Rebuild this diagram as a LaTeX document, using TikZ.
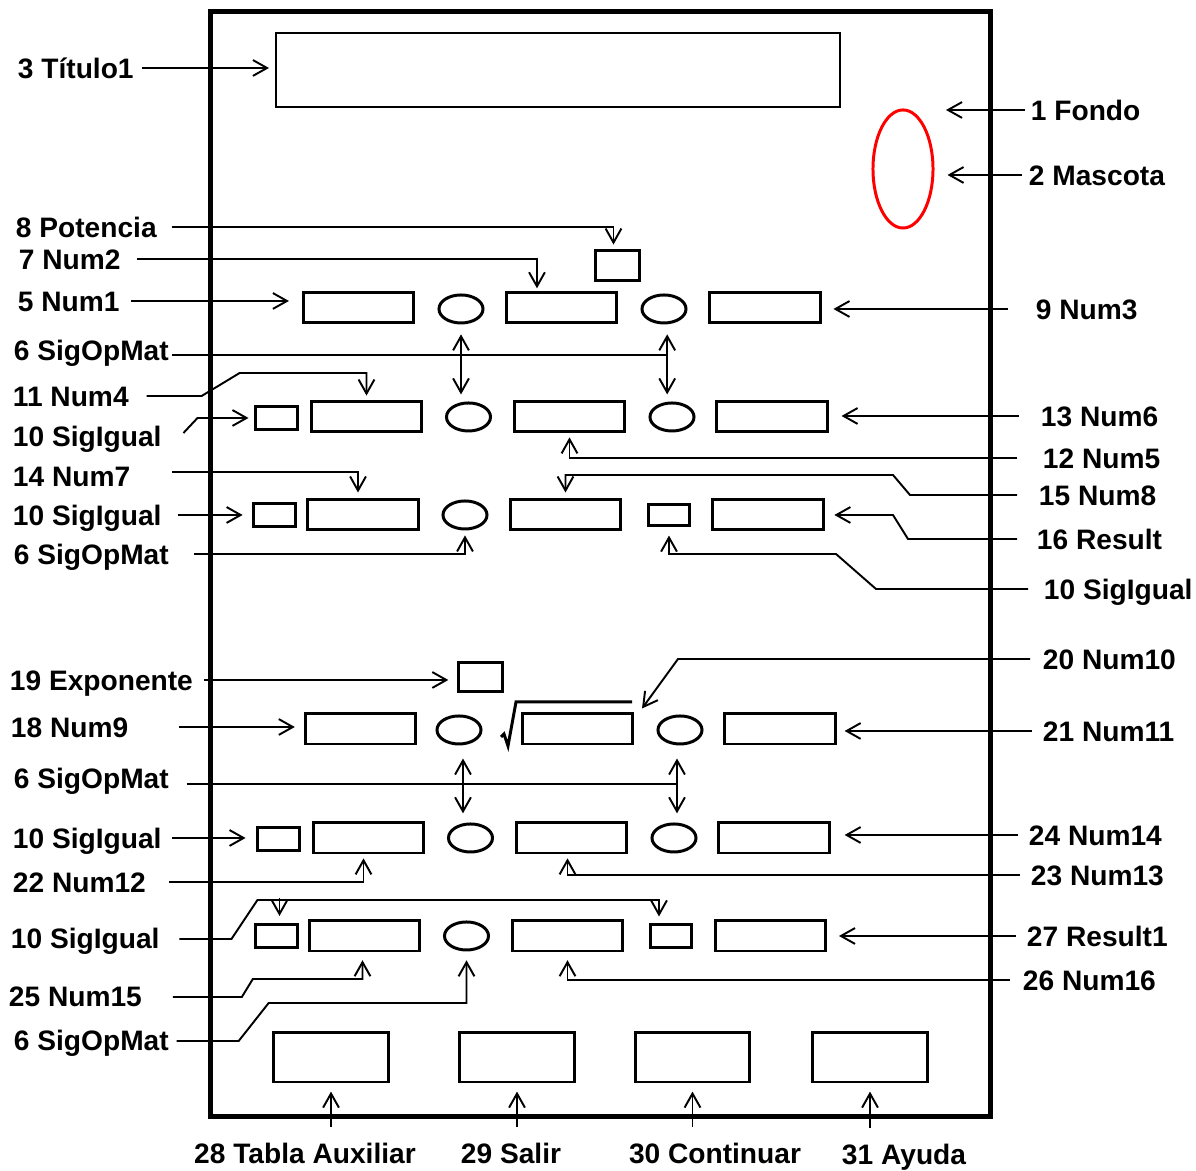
\documentclass[tikz,border=0pt]{standalone}
\usepackage{fontspec}
\setmainfont{Liberation Sans}
\usepackage{tikz}
\usetikzlibrary{calc, shapes.geometric, arrows.meta}

\begin{document}
\begin{tikzpicture}[x=0.01cm, y=-0.01cm, line width=0.55pt,
    >={Straight Barb[length=4pt, width=4.5pt]},
    campo/.style={draw, line width=0.85pt, inner sep=0, minimum width=1.1cm, minimum height=0.3cm},
    signo/.style={draw, ellipse, line width=0.85pt, inner sep=0, minimum width=0.44cm, minimum height=0.28cm},
    igual/.style={draw, line width=0.85pt, inner sep=0, minimum width=0.41cm, minimum height=0.23cm},
    boton/.style={draw, line width=0.85pt, inner sep=0, minimum width=1.14cm, minimum height=0.49cm},
    etq/.style={font=\fontsize{8}{10}\selectfont\bfseries, inner sep=0, text height=5.8pt, text depth=0pt, anchor=west}]
    \useasboundingbox (0,0) rectangle (1196,1171);

    % Marco, titulo y mascota
    \node[draw, line width=1.4pt, minimum width=7.79cm, minimum height=11.04cm] (fondo) at (600.5,564) {};
    \node[draw, line width=0.5pt, inner sep=0, minimum width=5.64cm, minimum height=0.74cm] (titulo) at (558,70) {};
    \node[draw=red, ellipse, line width=0.85pt, inner sep=0, minimum width=0.6cm, minimum height=1.18cm] (mascota) at (903,169) {};
    \coordinate (cfondo) at (946,110);

    % Primer bloque
    \node[campo, minimum width=0.43cm] (pot) at (617.5,266) {};
    \node[campo] (n1) at (358.5,308) {};
    \node[signo] (s1) at (461,309) {};
    \node[campo] (n2) at (561.5,308) {};
    \node[signo] (s2) at (664,309) {};
    \node[campo] (n3) at (765,308) {};
    \node[igual] (i1) at (276.5,418) {};
    \node[campo] (n4) at (366.5,417) {};
    \node[signo] (s3) at (468.5,417) {};
    \node[campo] (n5) at (569.5,417) {};
    \node[signo] (s4) at (672,417) {};
    \node[campo] (n6) at (772,417) {};
    \node[igual] (i2) at (274.5,515.5) {};
    \node[campo] (n7) at (363,515) {};
    \node[signo] (s5) at (465,515) {};
    \node[campo] (n8) at (565.5,515) {};
    \node[igual, minimum height=0.21cm] (i3) at (669,515.5) {};
    \node[campo] (res) at (768,515) {};

    % Segundo bloque
    \node[campo, minimum width=0.43cm, minimum height=0.29cm] (exp) at (480.5,677.5) {};
    \node[campo] (n9) at (360.5,729) {};
    \node[signo] (s6) at (459,730) {};
    \node[campo] (n10) at (577.5,729) {};
    \draw[line width=0.85pt] (501,737) -- (504,734) -- (508,746) -- (516,702) -- (632,702);
    \node[signo] (s7) at (680,730) {};
    \node[campo] (n11) at (780,729) {};
    \node[igual] (i4) at (278.5,839.5) {};
    \node[campo] (n12) at (368.5,838) {};
    \node[signo] (s8) at (470.5,838) {};
    \node[campo] (n13) at (571.5,838) {};
    \node[signo] (s9) at (674,838) {};
    \node[campo] (n14) at (774,838) {};
    \node[igual] (i5) at (276.5,936) {};
    \node[campo] (n15) at (364.5,936) {};
    \node[signo] (s10) at (466.5,936) {};
    \node[campo] (n16) at (567.5,936) {};
    \node[igual] (i6) at (671,936.5) {};
    \node[campo] (res1) at (770.5,936) {};

    % Botones
    \node[boton] (b1) at (331,1057.5) {};
    \node[boton] (b2) at (517,1057.5) {};
    \node[boton] (b3) at (692.5,1057.5) {};
    \node[boton] (b4) at (870,1057.5) {};

    % Etiquetas de la izquierda
    \node[etq] (t3) at (17,68) {3 Título1};
    \node[etq] (p8) at (15,227) {8 Potencia};
    \node[etq] (p7) at (18,259) {7 Num2};
    \node[etq] (p5) at (17,301) {5 Num1};
    \node[etq] (p6a) at (13,350) {6 SigOpMat};
    \node[etq] (p11) at (12,396) {11 Num4};
    \node[etq] (p10a) at (12,436) {10 SigIgual};
    \node[etq] (p14) at (12,476) {14 Num7};
    \node[etq] (p10b) at (12,515) {10 SigIgual};
    \node[etq] (p6b) at (13,554) {6 SigOpMat};
    \node[etq] (p19) at (9,680) {19 Exponente};
    \node[etq] (p18) at (10,727) {18 Num9};
    \node[etq] (p6c) at (13,778) {6 SigOpMat};
    \node[etq] (p10c) at (12,838) {10 SigIgual};
    \node[etq] (p22) at (12,882) {22 Num12};
    \node[etq] (p10d) at (10,938) {10 SigIgual};
    \node[etq] (p25) at (8,996) {25 Num15};
    \node[etq] (p6d) at (13,1040) {6 SigOpMat};

    % Etiquetas de la derecha
    \node[etq] (p1) at (1030,110) {1 Fondo};
    \node[etq] (p2) at (1028,175) {2 Mascota};
    \node[etq] (p9) at (1035,309) {9 Num3};
    \node[etq] (p13) at (1040,416) {13 Num6};
    \node[etq] (p12) at (1042,458) {12 Num5};
    \node[etq] (p15) at (1038,495) {15 Num8};
    \node[etq] (p16) at (1036,539) {16 Result};
    \node[etq] (p10e) at (1043,589) {10 SigIgual};
    \node[etq] (p20) at (1042,659) {20 Num10};
    \node[etq] (p21) at (1042,731) {21 Num11};
    \node[etq] (p24) at (1028,835) {24 Num14};
    \node[etq] (p23) at (1030,875) {23 Num13};
    \node[etq] (p27) at (1026,936) {27 Result1};
    \node[etq] (p26) at (1022,980) {26 Num16};

    % Etiquetas de abajo
    \node[etq, anchor=center] (p28) at (305,1153) {28 Tabla Auxiliar};
    \node[etq, anchor=center] (p29) at (511,1153) {29 Salir};
    \node[etq, anchor=center] (p30) at (715,1153) {30 Continuar};
    \node[etq, anchor=center] (p31) at (904,1154) {31 Ayuda};

    % Flechas de arriba
    \draw[->, shorten <=2pt, shorten >=1.7pt] (t3.east) -- (t3.east -| titulo.west);
    \draw[->, shorten <=1.4pt] (p1.west) -- (p1.west -| cfondo);
    \draw[->, shorten <=1.7pt, shorten >=3.7pt] (p2.west) -- (p2.west -| mascota.east);

    % Flechas del primer bloque
    \draw[->, shorten <=4pt, shorten >=1.4pt] (p8.east) -| ($(pot.north)+(-4,0)$);
    \draw[->, shorten <=4.3pt, shorten >=0.9pt] (p7.east) -| ($(n2.north west)+(32,0)$);
    \draw[->, shorten <=3.1pt, shorten >=3.7pt] (p5.east) -- (p5.east -| n1.west);
    \draw[->, shorten <=7.7pt, shorten >=3.4pt] (p9.west) -- (p9.west -| n3.east);
    \coordinate (c1) at ($(s2.south)!0.4!(s4.north)$);
    \draw[shorten <=0.6pt] (p6a.east |- c1) -- (c1);
    \draw[<->, shorten <=2.8pt, shorten >=2pt] (s1.south) -- (s1.south |- s3.north);
    \draw[<->, shorten <=2.8pt, shorten >=2pt] (c1 |- s2.south) -- (c1 |- s4.north);
    \draw[->, shorten >=1.4pt] ($(p11.east)+(17,0)$) -- ++(55,0) -- ++(38,-23) -| (n4.north);
    \draw[->, shorten >=1.7pt] ($(p10a.east)+(21,-3)$) -- ($(i1.west)+(-57,0)$) -- (i1.west);
    \draw[->, shorten <=6pt, shorten >=3.7pt] (p13.west) -- (p13.west -| n6.east);
    \draw[->, shorten <=7pt, shorten >=1.1pt] (p12.west) -| (n5.south);
    \draw[->, shorten >=1.7pt] ($(p15.west)+(-21,0)$) -- ++(-107,0) -- ++(-17,-20) -| (n8.north);
    \draw[->, shorten >=1.7pt] ($(p14.east)+(41,-4)$) -| ($(n7.north)+(-5,0)$);
    \draw[->, shorten <=4.3pt, shorten >=2.8pt] (p10b.east) -- (p10b.east -| i2.west);
    \draw[->, shorten <=7pt, shorten >=1.4pt] (p6b.east) -| (s5.south);
    \draw[->, shorten >=2.8pt] ($(p16.west)+(-19,0)$) -- ++(-109,0) -- ++(-15,-24) -- (res.east);
    \draw[->, shorten >=2.3pt] ($(p10e.west)+(-15,0)$) -- ++(-152,0) -- ++(-40,-35) -| (i3.south);

    % Flechas del segundo bloque
    \draw[->, shorten <=2.8pt, shorten >=2.6pt] (p19.east) -- (p19.east -| exp.west);
    \draw[->, shorten <=3.4pt] (p20.west) -- ++(-364,0) -- ($(n10.north east)+(8,-4)$);
    \draw[->, shorten <=14.2pt, shorten >=2.6pt] (p18.east) -- (p18.east -| n9.west);
    \draw[->, shorten <=2.8pt, shorten >=2.3pt] (p21.west) -- (p21.west -| n11.east);
    \coordinate (c2) at ($(s7.south)!0.5!(s9.north)$);
    \draw[shorten <=4.8pt] (p6c.east |- c2) -- (c2);
    \draw[<->, shorten <=3.7pt, shorten >=2.6pt] ($(s6.south)+(4,0)$) -- ($(s6.south |- s8.north)+(4,0)$);
    \draw[<->, shorten <=3.7pt, shorten >=2.6pt] (c2 |- s7.south) -- (c2 |- s9.north);
    \draw[->, shorten <=2.8pt, shorten >=3.1pt] (p10c.east) -- (p10c.east -| i4.west);
    \draw[->, shorten <=2.8pt, shorten >=4pt] (p24.west) -- (p24.west -| n14.east);
    \draw[->, shorten <=6.3pt, shorten >=1.1pt] (p22.east) -| ($(n12.south)+(-5,0)$);
    \draw[->, shorten <=2.8pt, shorten >=1.1pt] (p23.west) -| ($(n13.south)+(-4,0)$);
    \draw[->, shorten >=2pt] ($(p10d.east)+(19,1)$) -- ++(52,0) -- ++(26,-39) -| ($(i6.north)+(-12,0)$);
    \draw[->, shorten >=2pt] ($(i5.north)+(3,-25)$) -- ($(i5.north)+(3,0)$);
    \draw[->, shorten <=2.8pt, shorten >=3.4pt] (p27.west) -- (p27.west -| res1.east);
    \draw[->, shorten >=2.2pt] ($(p25.east)+(30,1)$) -- ++(69,0) -- ++(11,-18) -| ($(n15.south)+(-2,0)$);
    \draw[->, shorten <=3.4pt, shorten >=2.2pt] (p26.west) -| (n16.south);
    \draw[->, shorten >=2.5pt] ($(p6d.east)+(7,1)$) -- ++(62,0) -- ++(30,-38) -| (s10.south);

    % Flechas de los botones
    \foreach \b/\l in {b1/p28, b2/p29, b3/p30, b4/p31}
        \draw[->, shorten <=4.3pt, shorten >=2.3pt] (\b.south |- \l.north) -- (\b.south);
\end{tikzpicture}
\end{document}
